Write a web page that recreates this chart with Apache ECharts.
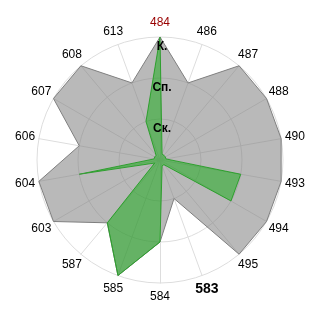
<!DOCTYPE html>
<html><head><meta charset="utf-8">
<script src="https://cdn.jsdelivr.net/npm/echarts@6/dist/echarts.min.js"></script>
<style>html,body{margin:0;padding:0;background:#fff}#c{width:320px;height:320px}</style>
</head><body><div id="c"></div>
<script>
// categories clockwise from top
var categories = ['484','486','487','488','490','493','494','495','583','584','585','587','603','604','606','607','608','613'];
var grayValues  = [3, 2, 3, 3, 3, 3, 3, 3, 1, 2, 3, 2, 3, 3, 2, 3, 3, 2];
var greenValues = [3, 0.15, 0.15, 0.15, 0.15, 2, 2, 0.15, 0.15, 2, 3, 2, 0.15, 2, 0.15, 0.15, 0.15, 1];
var levelLabels = ['', 'Ск.', 'Сп.', 'К.'];
var maxValue = 3;

// ECharts radar places indicators counter-clockwise; reorder to draw clockwise
function cw(arr){ return [arr[0]].concat(arr.slice(1).reverse()); }
var cats = cw(categories);
var FONT = 'Liberation Sans, Arial, sans-serif';

function makeIndicators(withLabels){
  return cats.map(function(c){
    var ind = { name: c, max: maxValue, min: 0 };
    if (c === '484') {
      ind.color = '#990000';
      if (withLabels) {
        ind.axisLabel = {
          show: true, margin: 0, align: 'center', verticalAlign: 'top',
          padding: [4, 0, 0, 4],
          color: '#000', fontWeight: 'bold', fontSize: 12, fontFamily: FONT,
          formatter: function(v){ return levelLabels[Math.round(v)] || ''; }
        };
      }
    }
    return ind;
  });
}

var chart = echarts.init(document.getElementById('c'), null, {renderer: 'canvas'});
chart.setOption({
  animation: false,
  radar: [{
    center: [160, 160],
    radius: 123,
    startAngle: 90,
    shape: 'circle',
    splitNumber: 3,
    indicator: makeIndicators(false),
    axisName: {
      color: '#000', fontSize: 12, fontFamily: FONT,
      align: 'center', verticalAlign: 'middle',
      formatter: function(n){ return n === '583' ? '{b|' + n + '}' : n; },
      rich: { b: { fontWeight: 'bold', fontSize: 14, color: '#000', fontFamily: FONT } }
    },
    nameGap: 14,
    axisLine: { lineStyle: { color: '#dddddd', width: 1 } },
    splitLine: { lineStyle: { color: '#dddddd', width: 1 } },
    splitArea: { show: false },
    axisTick: { show: false },
    axisLabel: { show: false }
  }, {
    z: 10,
    center: [160, 160],
    radius: 123,
    startAngle: 90,
    shape: 'circle',
    splitNumber: 3,
    indicator: makeIndicators(true),
    axisName: { show: false },
    axisLine: { show: false },
    splitLine: { show: false },
    splitArea: { show: false },
    axisTick: { show: false },
    axisLabel: { show: false }
  }],
  series: [{
    type: 'radar',
    radarIndex: 0,
    symbol: 'none',
    z: 2,
    data: [
      { value: cw(grayValues), lineStyle: { color: '#7f7f7f', width: 1 }, areaStyle: { color: 'rgba(128,128,128,0.55)', opacity: 1 } },
      { value: cw(greenValues), lineStyle: { color: '#3c9c3c', width: 1 }, areaStyle: { color: 'rgba(0,170,0,0.45)', opacity: 1 } }
    ]
  }]
});
</script>
</body></html>
